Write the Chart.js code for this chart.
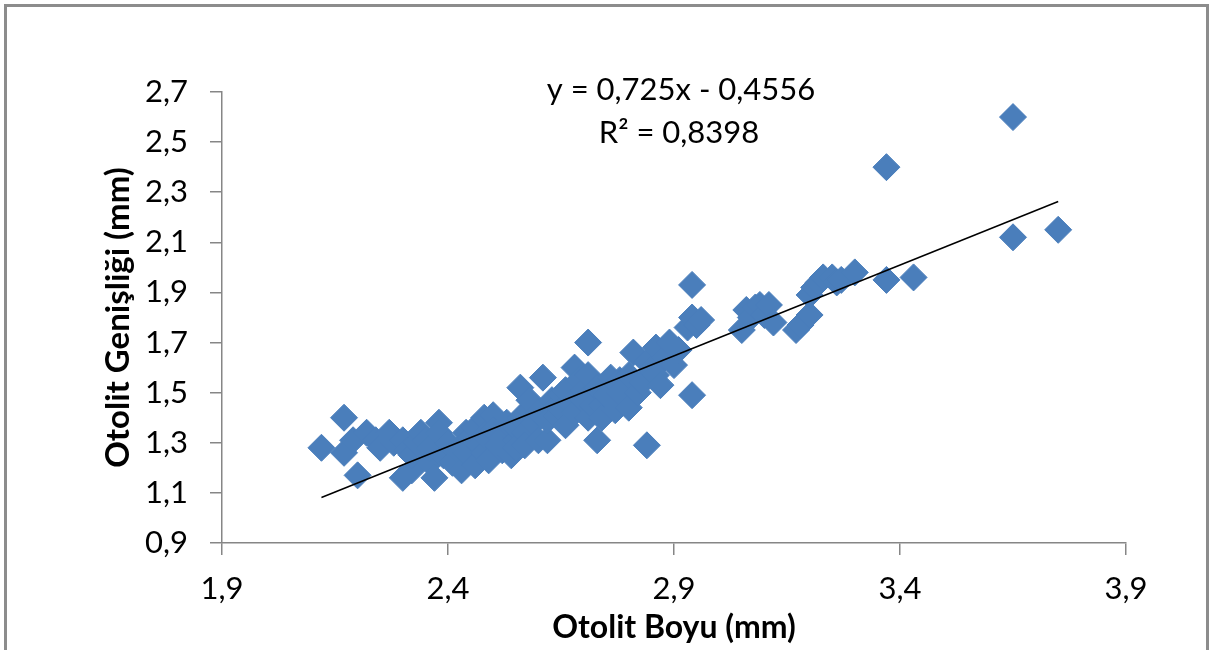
<!DOCTYPE html>
<html>
<head>
<meta charset="utf-8">
<script src="https://cdn.jsdelivr.net/npm/chart.js@4.4.0/dist/chart.umd.min.js"></script>
<style>
  html, body { margin: 0; padding: 0; background: #fff; }
  #wrap { position: relative; width: 1210px; height: 650px; overflow: hidden; }
  #frame {
    position: absolute; left: 4px; top: 4px; width: 1199px; height: 700px;
    border: 3px solid #8c8c8c; pointer-events: none;
  }
  canvas { position: absolute; left: 0; top: 0; }
</style>
</head>
<body>
<div id="wrap">
  <canvas id="otolitChart" width="1210" height="650"></canvas>
  <div id="frame"></div>
</div>
<script>
// Otolit boyu (x) ve otolit genişliği (y) ölçümleri, mm
const otolitBoyu = [
  2.12, 2.17, 2.17, 2.19, 2.20, 2.22, 2.24, 2.25, 2.27, 2.28,
  2.30, 2.30, 2.31, 2.32, 2.32, 2.33, 2.34, 2.35, 2.36, 2.36,
  2.37, 2.38, 2.38, 2.39, 2.40, 2.41, 2.42, 2.43, 2.44, 2.44,
  2.45, 2.46, 2.46, 2.47, 2.48, 2.48, 2.48, 2.49, 2.50, 2.50,
  2.51, 2.52, 2.52, 2.53, 2.54, 2.55, 2.55, 2.55, 2.56, 2.56,
  2.57, 2.57, 2.58, 2.58, 2.59, 2.60, 2.60, 2.61, 2.62, 2.62,
  2.63, 2.64, 2.64, 2.65, 2.65, 2.66, 2.66, 2.67, 2.68, 2.68,
  2.69, 2.70, 2.70, 2.71, 2.71, 2.71, 2.72, 2.73, 2.73, 2.74,
  2.74, 2.75, 2.76, 2.77, 2.78, 2.78, 2.79, 2.80, 2.80, 2.81,
  2.82, 2.83, 2.84, 2.84, 2.85, 2.86, 2.86, 2.87, 2.88, 2.89,
  2.90, 2.91, 2.93, 2.94, 2.94, 2.94, 2.95, 2.96, 3.05, 3.06,
  3.07, 3.08, 3.09, 3.10, 3.11, 3.12, 3.17, 3.18, 3.20, 3.20,
  3.21, 3.22, 3.23, 3.25, 3.26, 3.27, 3.30, 3.37, 3.37, 3.43,
  3.65, 3.65, 3.75
];
const otolitGenisligi = [
  1.28, 1.40, 1.26, 1.31, 1.17, 1.34, 1.31, 1.28, 1.34, 1.30,
  1.31, 1.16, 1.27, 1.19, 1.25, 1.30, 1.34, 1.31, 1.22, 1.28,
  1.16, 1.38, 1.34, 1.25, 1.30, 1.22, 1.27, 1.19, 1.34, 1.26,
  1.32, 1.21, 1.36, 1.29, 1.40, 1.26, 1.33, 1.23, 1.41, 1.35,
  1.29, 1.32, 1.27, 1.38, 1.25, 1.31, 1.36, 1.28, 1.52, 1.40,
  1.34, 1.29, 1.43, 1.47, 1.38, 1.31, 1.42, 1.56, 1.31, 1.39,
  1.47, 1.45, 1.41, 1.49, 1.43, 1.37, 1.51, 1.46, 1.60, 1.42,
  1.55, 1.51, 1.47, 1.70, 1.40, 1.57, 1.45, 1.31, 1.52, 1.45,
  1.40, 1.49, 1.56, 1.43, 1.50, 1.55, 1.52, 1.44, 1.57, 1.66,
  1.50, 1.54, 1.29, 1.62, 1.59, 1.68, 1.57, 1.53, 1.64, 1.70,
  1.61, 1.67, 1.76, 1.93, 1.80, 1.49, 1.77, 1.79, 1.75, 1.83,
  1.80, 1.84, 1.85, 1.81, 1.85, 1.78, 1.75, 1.77, 1.81, 1.89,
  1.92, 1.94, 1.96, 1.96, 1.94, 1.95, 1.98, 1.95, 2.40, 1.96,
  2.60, 2.12, 2.15
];

// Doğrusal eğilim çizgisi: y = 0,725x - 0,4556
const trendSlope = 0.725;
const trendIntercept = -0.4556;
const trendRange = [2.12, 3.75];

const xTickLabels = ['1,9', '2,4', '2,9', '3,4', '3,9'];
const yTickLabels = ['0,9', '1,1', '1,3', '1,5', '1,7', '1,9', '2,1', '2,3', '2,5', '2,7'];
const equationLines = ['y = 0,725x - 0,4556', 'R² = 0,8398'];

const scatterPoints = otolitBoyu.map((x, i) => ({ x: x, y: otolitGenisligi[i] }));
const trendPoints = trendRange.map(x => ({ x: x, y: trendSlope * x + trendIntercept }));

const axisGray = '#868686';
const fontFamily = 'Lato, "Open Sans", sans-serif';

// denklem ve R² metni
const equationPlugin = {
  id: 'equationText',
  afterDatasetsDraw(chart) {
    const ctx = chart.ctx;
    ctx.save();
    ctx.fillStyle = '#000';
    ctx.font = '31px ' + fontFamily;
    ctx.textAlign = 'center';
    ctx.textBaseline = 'middle';
    ctx.fillText(equationLines[0], 681, 90);
    ctx.fillText(equationLines[1], 679, 133);
    ctx.restore();
  }
};

new Chart(document.getElementById('otolitChart').getContext('2d'), {
  type: 'scatter',
  data: {
    datasets: [
      {
        label: 'Otolit',
        data: scatterPoints,
        pointStyle: 'rectRot',
        pointRadius: 13.5,
        pointHoverRadius: 13.5,
        backgroundColor: '#4A7EBB',
        borderColor: '#4A7EBB',
        borderWidth: 1,
        order: 2
      },
      {
        label: 'Doğrusal',
        type: 'line',
        data: trendPoints,
        showLine: true,
        borderColor: '#000',
        borderWidth: 1.5,
        pointRadius: 0,
        fill: false,
        order: 1
      }
    ]
  },
  options: {
    responsive: false,
    animation: false,
    layout: { padding: { top: 92, right: 84, bottom: 0, left: 0 } },
    plugins: {
      legend: { display: false },
      tooltip: { enabled: false }
    },
    scales: {
      x: {
        type: 'linear',
        min: 1.9,
        max: 3.9,
        afterFit: scale => { scale.height = 107; },
        afterBuildTicks: scale => {
          scale.ticks = xTickLabels.map((t, i) => ({ value: 1.9 + i * 0.5 }));
        },
        ticks: {
          callback: (value, index) => xTickLabels[index],
          color: '#000',
          padding: 15,
          font: { family: fontFamily, size: 31 }
        },
        grid: { drawOnChartArea: false, tickLength: 12, color: axisGray, lineWidth: 1.5 },
        border: { color: axisGray, width: 1.5 },
        title: {
          display: true,
          text: 'Otolit Boyu (mm)',
          color: '#000',
          padding: { top: 0, bottom: 3 },
          font: { family: fontFamily, size: 32, weight: 'bold' }
        }
      },
      y: {
        type: 'linear',
        min: 0.9,
        max: 2.7,
        afterFit: scale => { scale.width = 222; },
        afterBuildTicks: scale => {
          scale.ticks = yTickLabels.map((t, i) => ({ value: 0.9 + i * 0.2 }));
        },
        ticks: {
          callback: (value, index) => yTickLabels[index],
          color: '#000',
          padding: 22,
          font: { family: fontFamily, size: 31 }
        },
        grid: { drawOnChartArea: false, tickLength: 12, color: axisGray, lineWidth: 1.5 },
        border: { color: axisGray, width: 1.5 },
        title: {
          display: true,
          text: 'Otolit Genişliği (mm)',
          color: '#000',
          padding: { top: 99, bottom: 0 },
          font: { family: fontFamily, size: 33, weight: 'bold' }
        }
      }
    }
  },
  plugins: [equationPlugin]
});
</script>
</body>
</html>
